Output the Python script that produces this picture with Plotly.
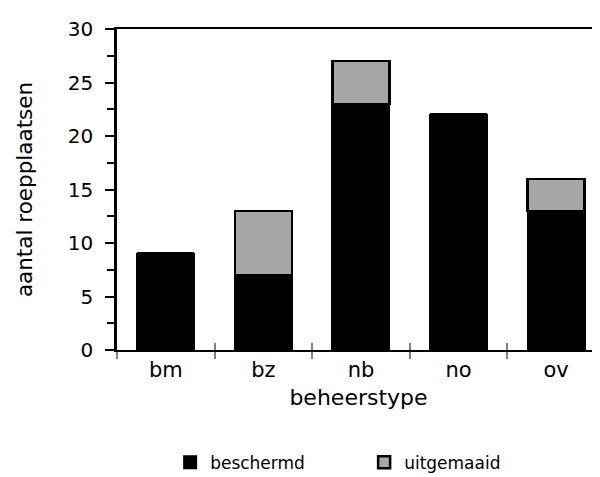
import plotly.graph_objects as go

categories = ["bm", "bz", "nb", "no", "ov"]
beschermd = [9, 7, 23, 22, 13]
uitgemaaid = [0, 6, 4, 0, 3]

FONT = "DejaVu Sans, Liberation Sans, Arial, sans-serif"

fig = go.Figure()
fig.add_trace(go.Bar(
    x=categories, y=beschermd, name="beschermd",
    marker=dict(color="#000000", line=dict(color="#000000", width=2)),
    width=0.585,
))
fig.add_trace(go.Bar(
    x=categories, y=uitgemaaid, name="uitgemaaid",
    marker=dict(color="#a6a6a6", line=dict(color="#000000", width=2.5)),
    width=0.585,
))
# empty helper trace so the overlaid tick axis (upper half of the crossing ticks) is drawn
fig.add_trace(go.Scatter(x=[None], y=[None], xaxis="x2", mode="markers",
                         showlegend=False, hoverinfo="skip"))

xrange = [-0.5, 4.45]
boundaries = [i - 0.5 for i in range(len(categories))]
fig.update_layout(
    width=592, height=469,
    barmode="stack",
    plot_bgcolor="white", paper_bgcolor="white",
    margin=dict(l=109, r=0, t=21, b=127, autoexpand=False),
    font=dict(family=FONT, color="#000000", size=20),
    xaxis=dict(
        type="category", categoryorder="array", categoryarray=categories,
        range=xrange, tickson="boundaries", automargin=False,
        ticks="outside", ticklen=7, tickwidth=2, tickcolor="#808080",
        ticklabelstandoff=0,
        showline=True, linecolor="#000000", linewidth=2, mirror=True,
        tickfont=dict(size=21, color="#000000"),
        title=dict(text="beheerstype", font=dict(size=22, color="#000000"), standoff=8),
        showgrid=False, zeroline=False,
    ),
    xaxis2=dict(
        type="linear", overlaying="x", anchor="y", side="bottom",
        range=xrange, tickmode="array", tickvals=boundaries, automargin=False,
        ticks="inside", ticklen=7, tickwidth=2, tickcolor="#808080",
        showticklabels=False, showline=False, showgrid=False, zeroline=False,
    ),
    yaxis=dict(
        range=[0, 30], dtick=5, tick0=0, automargin=False,
        ticks="outside", ticklen=9, tickwidth=2, tickcolor="#000000",
        minor=dict(dtick=2.5, ticks="outside", ticklen=7, tickwidth=2, tickcolor="#000000"),
        showline=True, linecolor="#000000", linewidth=2.5,
        ticklabelstandoff=8,
        tickfont=dict(size=20, color="#000000"),
        title=dict(text="aantal roepplaatsen", font=dict(size=21.5, color="#000000"), standoff=30),
        showgrid=False, zeroline=False,
    ),
    legend=dict(
        orientation="h", x=0.11, xanchor="left", y=-0.351, yanchor="middle",
        font=dict(size=17, color="#000000"), entrywidth=149, entrywidthmode="pixels",
        traceorder="normal",
    ),
)

fig.write_html("out.html")
